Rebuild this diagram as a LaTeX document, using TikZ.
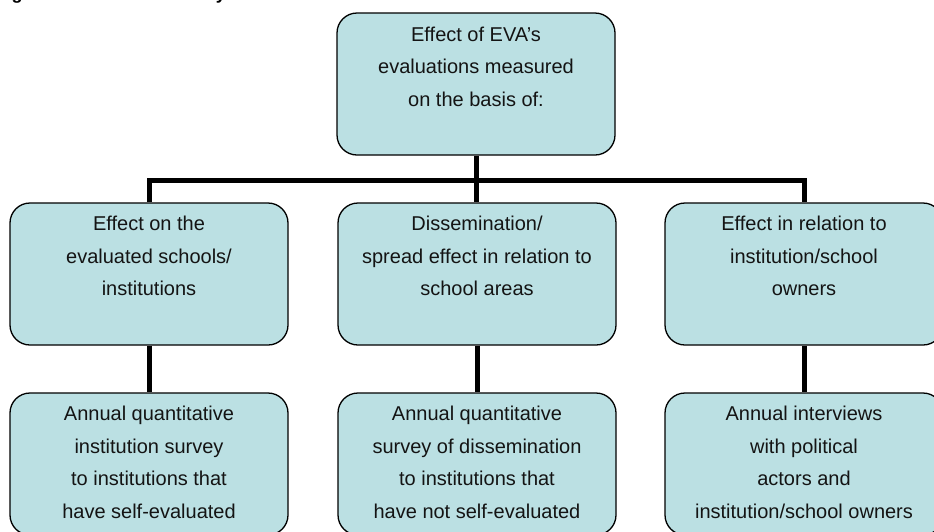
\documentclass[tikz,border=0pt]{standalone}
\usepackage{fontspec}
\setmainfont{Liberation Sans}
\definecolor{boxfill}{RGB}{187,224,227}
\definecolor{txtcol}{RGB}{20,20,20}
\tikzset{
  box/.style={draw=black, fill=boxfill, rounded corners=20pt, line width=1.3pt,
    minimum width=278pt, minimum height=142pt, inner sep=0pt},
  txt/.style={anchor=north, align=center, inner sep=0pt, text=txtcol,
    font=\fontsize{20}{32.5}\selectfont, execute at begin node={\strut}},
  conn/.style={draw=black, line width=5pt, line join=miter, line cap=butt},
  title/.style={font=\bfseries\fontsize{18}{18}\selectfont, anchor=base, inner sep=0pt}
}
\begin{document}
\begin{tikzpicture}[x=1pt,y=-1pt]
\useasboundingbox (0,0) rectangle (934,531);
\clip (0,0) rectangle (934,531);
% cut-off title fragments
\node[title] (tg) at (17,-0.5) {g};
\node[title] (ty) at (221,-0.5) {y};
% boxes
\node[box] (top) at (476,84) {};
\node[box] (l1) at (149,274) {};
\node[box] (m1) at (477,274) {};
\node[box] (r1) at (804,274) {};
\node[box] (l2) at (149,464) {};
\node[box] (m2) at (477,464) {};
\node[box] (r2) at (804,464) {};
% connectors
\coordinate (bus) at (476,180);
\draw[conn] (l1.north) |- (bus) -| (r1.north);
\draw[conn] (top.south) -- (top.south |- m1.north);
\draw[conn] (l1.south) -- (l2.north);
\draw[conn] (m1.south) -- (m2.north);
\draw[conn] (r1.south) -- (r2.north);
% texts
\node[txt] (ttop) at ([yshift=-14.3pt]top.north) {Effect of EVA’s\\evaluations measured\\on the basis of:};
\node[txt] (tl1) at ([yshift=-13.5pt]l1.north) {Effect on the\\evaluated schools/\\institutions};
\node[txt] (tm1) at ([yshift=-13.5pt]m1.north) {Dissemination/\\spread effect in relation to\\school areas};
\node[txt] (tr1) at ([yshift=-13.5pt]r1.north) {Effect in relation to\\institution/school\\owners};
\node[txt] (tl2) at ([yshift=-13.5pt]l2.north) {Annual quantitative\\institution survey\\to institutions that\\have self-evaluated};
\node[txt] (tm2) at ([yshift=-13.5pt]m2.north) {Annual quantitative\\survey of dissemination\\to institutions that\\have not self-evaluated};
\node[txt] (tr2) at ([yshift=-13.5pt]r2.north) {Annual interviews\\with political\\actors and\\institution/school owners};
\end{tikzpicture}
\end{document}
